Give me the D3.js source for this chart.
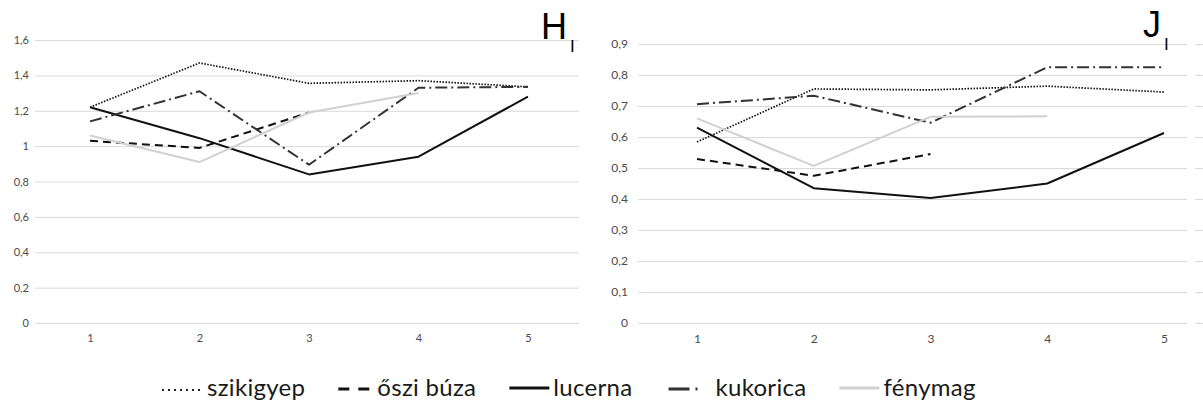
<!DOCTYPE html>
<html>
<head>
<meta charset="utf-8">
<script src="https://cdn.jsdelivr.net/npm/d3@7"></script>
<style>
  body { margin: 0; background: #fff; }
  svg { display: block; }
  .tick text { font-family: Lato, "Open Sans", sans-serif; fill: #4a4a4a; }
  .title { font-family: "Liberation Sans", Arial, sans-serif; fill: #000; }
  .legend text { font-family: Lato, "Open Sans", sans-serif; fill: #1a1a1a; }
</style>
</head>
<body>
<div id="chart"></div>
<script>
var categories = [1, 2, 3, 4, 5];
var seriesNames = ["szikigyep", "őszi búza", "lucerna", "kukorica", "fénymag"];

// H_I values
var hSzikigyep = [1.22, 1.47, 1.355, 1.37, 1.335];
var hOsziBuza  = [1.03, 0.99, 1.19, null, null];
var hLucerna   = [1.22, 1.045, 0.84, 0.94, 1.28];
var hKukorica  = [1.14, 1.31, 0.895, 1.33, 1.335];
var hFenymag   = [1.06, 0.91, 1.19, 1.30, null];
var hTicks = [0, 0.2, 0.4, 0.6, 0.8, 1, 1.2, 1.4, 1.6];

// J_I values
var jSzikigyep = [0.584, 0.755, 0.752, 0.764, 0.745];
var jOsziBuza  = [0.529, 0.475, 0.545, null, null];
var jLucerna   = [0.63, 0.435, 0.403, 0.45, 0.613];
var jKukorica  = [0.706, 0.733, 0.646, 0.825, 0.825];
var jFenymag   = [0.66, 0.507, 0.665, 0.667, null];
var jTicks = [0, 0.1, 0.2, 0.3, 0.4, 0.5, 0.6, 0.7, 0.8, 0.9];

var styles = [
  {stroke: "#111", width: 1.7, dash: "1.5,1.5"},
  {stroke: "#111", width: 2, dash: "8,5"},
  {stroke: "#111", width: 2, dash: null},
  {stroke: "#333", width: 2, dash: "12,4,2,4"},
  {stroke: "#d0d0d0", width: 2, dash: null}
];

var width = 1203, height = 405;
var comma = function(d) { return String(d).replace(".", ","); };

var svg = d3.select("#chart").append("svg")
  .attr("width", width)
  .attr("height", height);

function panel(opts) {
  var g = svg.append("g");
  var x = d3.scalePoint().domain(categories).range(opts.xr);
  var y = d3.scaleLinear().domain([0, d3.max(opts.ticks)]).range(opts.yr);

  var yAxis = g.append("g")
    .attr("transform", "translate(" + opts.gx[0] + ",0)")
    .call(d3.axisLeft(y).tickValues(opts.ticks).tickFormat(comma)
      .tickSize(-(opts.gx[1] - opts.gx[0])).tickPadding(opts.pad));
  yAxis.select(".domain").remove();
  yAxis.selectAll(".tick line").attr("stroke", "#d9d9d9").attr("stroke-width", 1);
  yAxis.selectAll(".tick text").style("font-size", opts.fs + "px");

  var xAxis = g.append("g")
    .attr("transform", "translate(0," + opts.yr[0] + ")")
    .call(d3.axisBottom(x).tickSize(0).tickPadding(11));
  xAxis.select(".domain").remove();
  xAxis.selectAll(".tick text").style("font-size", opts.fs + "px");

  var line = d3.line()
    .defined(function(d) { return d.v != null; })
    .x(function(d) { return x(d.c); })
    .y(function(d) { return y(d.v); });

  opts.series.forEach(function(vals, i) {
    var pts = categories.map(function(c, k) { return {c: c, v: vals[k]}; });
    var s = styles[i];
    g.append("path")
      .datum(pts)
      .attr("fill", "none")
      .attr("stroke", s.stroke)
      .attr("stroke-width", s.width)
      .attr("stroke-dasharray", s.dash)
      .attr("stroke-linejoin", "round")
      .attr("d", line);
  });

  g.append("text").attr("class", "title")
    .attr("x", opts.tx).attr("y", opts.ty)
    .style("font-size", "36px").text(opts.title);
  g.append("text").attr("class", "title")
    .attr("x", opts.sx).attr("y", opts.sy)
    .style("font-size", "17px").text("I");
  return {x: x, y: y};
}

panel({
  series: [hSzikigyep, hOsziBuza, hLucerna, hKukorica, hFenymag],
  ticks: hTicks, xr: [90, 528], yr: [323, 40], gx: [35, 579], pad: 6, fs: 11,
  title: "H", tx: 541, ty: 39, sx: 570, sy: 52
});

var right = panel({
  series: [jSzikigyep, jOsziBuza, jLucerna, jKukorica, jFenymag],
  ticks: jTicks, xr: [697, 1164], yr: [323, 44], gx: [638, 1187], pad: 10, fs: 12,
  title: "J", tx: 1143, ty: 37, sx: 1164, sy: 50
});

// stray gridline stubs at the right edge
svg.append("g").selectAll("line")
  .data(jTicks)
  .enter().append("line")
  .attr("x1", 1195).attr("x2", 1203)
  .attr("y1", function(d) { return right.y(d) + 0.5; })
  .attr("y2", function(d) { return right.y(d) + 0.5; })
  .attr("stroke", "#d9d9d9");

// legend
var legend = svg.append("g").attr("class", "legend");
var lx = 162;
seriesNames.forEach(function(name, i) {
  var s = styles[i];
  var item = legend.append("g").attr("transform", "translate(" + lx + ",0)");
  var sw = 40;
  if (i == 0) {
    item.append("line").attr("x1", 0).attr("x2", 38).attr("y1", 390).attr("y2", 390)
      .attr("stroke", "#222").attr("stroke-width", 2).attr("stroke-dasharray", "2,4");
    sw = 38;
  } else if (i == 1) {
    item.append("line").attr("x1", 0).attr("x2", 32).attr("y1", 389).attr("y2", 389)
      .attr("stroke", "#111").attr("stroke-width", 3).attr("stroke-dasharray", "11,9");
    sw = 32;
  } else if (i == 3) {
    item.append("line").attr("x1", 0).attr("x2", 30).attr("y1", 389).attr("y2", 389)
      .attr("stroke", "#333").attr("stroke-width", 3).attr("stroke-dasharray", "21,6,2,20");
    sw = 40;
  } else {
    item.append("line").attr("x1", 0).attr("x2", 40).attr("y1", 388).attr("y2", 388)
      .attr("stroke", s.stroke).attr("stroke-width", 3);
  }
  var t = item.append("text")
    .attr("x", sw + (i == 2 || i == 4 ? 4 : 7)).attr("y", 396)
    .style("font-size", "24px")
    .style("letter-spacing", "0.3px")
    .text(name);
  lx += sw + 7 + t.node().getComputedTextLength() + 33;
});
</script>
</body>
</html>
